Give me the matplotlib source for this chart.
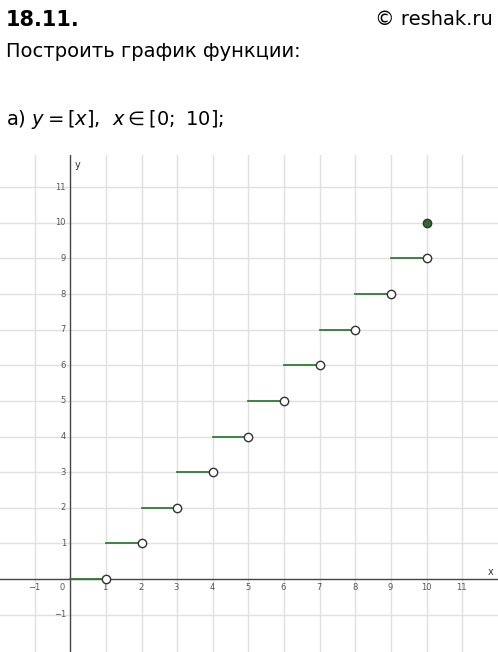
import matplotlib.pyplot as plt

# step function y = [x], x in [0; 10]
starts = [0, 1, 2, 3, 4, 5, 6, 7, 8, 9]
values = [0, 1, 2, 3, 4, 5, 6, 7, 8, 9]
end_point = (10, 10)

xticks = [-1, 1, 2, 3, 4, 5, 6, 7, 8, 9, 10, 11]
yticks = [-1, 1, 2, 3, 4, 5, 6, 7, 8, 9, 10, 11]

fig = plt.figure(figsize=(4.98, 6.52), dpi=100)

fig.text(0.012, 0.985, "18.11.", fontsize=15, fontweight="bold", va="top")
fig.text(0.99, 0.985, "© reshak.ru", fontsize=14, ha="right", va="top")
fig.text(0.012, 0.935, "Построить график функции:", fontsize=14, va="top")
fig.text(0.012, 0.835, "а) $y = [x]$,  $x \\in [0;\\ 10]$;", fontsize=14, va="top")

ax = fig.add_axes([0, 0, 1, 0.762])
ax.set_xlim(-1.97, 12.0)
ax.set_ylim(-2.05, 11.9)
for s in ax.spines.values():
    s.set_visible(False)
ax.set_xticks([])
ax.set_yticks([])

for v in range(-1, 12):
    if v != 0:
        ax.axvline(v, color="#e0e0e0", lw=1, zorder=0)
        ax.axhline(v, color="#e0e0e0", lw=1, zorder=0)
ax.axhline(0, color="#444444", lw=1, zorder=1)
ax.axvline(0, color="#444444", lw=1, zorder=1)

def lab(t):
    return str(t).replace("-", "\u2212")

for t in xticks:
    ax.text(t - 0.02, -0.12, lab(t), fontsize=6, color="#555555", ha="center", va="top")
for t in yticks:
    ax.text(-0.12, t, lab(t), fontsize=6, color="#555555", ha="right", va="center")
ax.text(-0.15, -0.12, "0", fontsize=6, color="#555555", ha="right", va="top")
ax.text(11.7, 0.1, "x", fontsize=7, color="#333333")
ax.text(0.12, 11.55, "y", fontsize=7, color="#333333")

for x0, y0 in zip(starts, values):
    ax.plot([x0, x0 + 1], [y0, y0], color="#2e7d32", lw=1.3, zorder=2)
    ax.plot(x0 + 1, y0, "o", ms=6, mfc="white", mec="#333333", mew=1, zorder=3)
ax.plot(*end_point, "o", ms=6, mfc="#2e6b30", mec="#333333", mew=1, zorder=3)

fig.savefig("out.png", dpi=100)
